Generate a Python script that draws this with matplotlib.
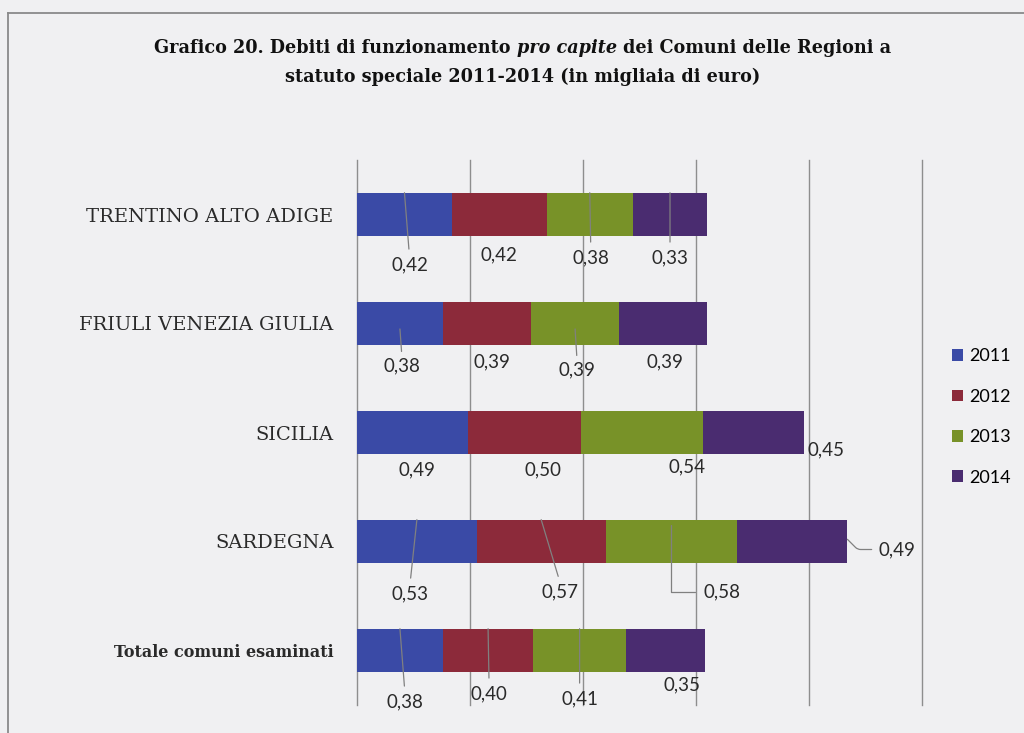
import matplotlib
matplotlib.use("Agg")
import matplotlib.pyplot as plt
from matplotlib.lines import Line2D

# ---------------- data ----------------
regions = ["TRENTINO ALTO ADIGE", "FRIULI VENEZIA GIULIA", "SICILIA",
           "SARDEGNA", "Totale comuni esaminati"]
years = ["2011", "2012", "2013", "2014"]
v2011 = [0.42, 0.38, 0.49, 0.53, 0.38]
v2012 = [0.42, 0.39, 0.50, 0.57, 0.40]
v2013 = [0.38, 0.39, 0.54, 0.58, 0.41]
v2014 = [0.33, 0.39, 0.45, 0.49, 0.35]
series = [v2011, v2012, v2013, v2014]

# ---------------- style ----------------
colors = ["#3a4aa6", "#8c2a3a", "#789228", "#4a2c70"]
bg = "#f0f0f2"
grid_col = "#8e8e8e"
lead_col = "#808080"
num_font = "Lato"
serif = "DejaVu Serif"

# label offsets in pixels from segment centre: (dx, dy downward)
label_off = [
    [(5, 50), (0, 40), (1, 43), (0, 43)],
    [(2, 42), (5, 38), (2, 46), (2, 38)],
    [(5, 37), (19, 37), (45, 34), (72, 17)],
    [(-7, 52), (19, 50), (51, 50), (105, 8)],
    [(5, 51), (1, 43), (0, 48), (17, 34)],
]
leaders = [
    ["v", None, "v", "v"],
    ["c", None, "c", None],
    [None, None, None, None],
    ["v", "v", "elbow", "side"],
    ["v", "v", "v", None],
]

W, H = 1024, 733
fig = plt.figure(figsize=(W / 100, H / 100), dpi=100, facecolor=bg)
ax = fig.add_axes([357 / W, 28 / H, 565 / W, 545 / H])
ax.set_facecolor("none")

ypos = list(range(len(regions)))
cum = [0.0] * len(regions)
for vals, col, yr in zip(series, colors, years):
    ax.barh(ypos, vals, left=cum, height=0.4, color=col, label=yr, zorder=2)
    cum = [c + v for c, v in zip(cum, vals)]

ax.set_xlim(0, 2.5)
ax.set_ylim(4.5, -0.5)
ax.set_xticks([0, 0.5, 1.0, 1.5, 2.0, 2.5])
ax.xaxis.grid(True, color=grid_col, lw=1.0)
for gl in ax.get_xgridlines():
    gl.set_clip_on(False)
ax.set_axisbelow(True)
ax.tick_params(axis="x", length=0, labelbottom=False)
for s in ax.spines.values():
    s.set_visible(False)
ax.set_yticks(ypos)
ax.set_yticklabels(regions)
ax.tick_params(axis="y", length=0, pad=17)
for k, lab in enumerate(ax.get_yticklabels()):
    lab.set_fontfamily(serif)
    lab.set_color("#2a2a2a")
    if k == len(regions) - 1:
        lab.set_fontweight("bold")
        lab.set_fontsize(11.5)
    else:
        lab.set_fontsize(14)

# data labels
for i in range(len(regions)):
    c0 = 0.0
    for j in range(len(series)):
        v = series[j][i]
        mid = c0 + v / 2
        dx, dy = label_off[i][j]
        txt = f"{v:.2f}".replace(".", ",")
        t = ax.annotate(txt, xy=(mid, i), xytext=(dx, -dy),
                        textcoords="offset pixels", ha="center", va="center",
                        fontsize=13.5, family=num_font, color="#2a2a2a",
                        zorder=4)
        kind = leaders[i][j]
        ap = dict(arrowstyle="-", color=lead_col, lw=0.9, shrinkB=0)
        if kind == "v":
            ax.annotate("", xy=(mid, i - 0.2), xytext=(0.5, 1.0), textcoords=t,
                        arrowprops=dict(ap, shrinkA=5), zorder=3)
        elif kind == "c":
            ax.annotate("", xy=(mid, i + 0.05), xytext=(0.5, 1.0), textcoords=t,
                        arrowprops=dict(ap, shrinkA=4), zorder=3)
        elif kind == "elbow":
            ax.annotate("", xy=(mid, i - 0.15), xytext=(0.0, 0.5), textcoords=t,
                        arrowprops=dict(ap, shrinkA=6,
                                        connectionstyle="angle,angleA=0,angleB=90,rad=0"),
                        zorder=3)
        elif kind == "side":
            ax.annotate("", xy=(c0 + v, i - 0.02), xytext=(0.0, 0.5), textcoords=t,
                        arrowprops=dict(ap, shrinkA=5,
                                        connectionstyle="angle,angleA=0,angleB=-45,rad=3"),
                        zorder=3)
        c0 += v

# legend
handles, labels = ax.get_legend_handles_labels()
fig.legend(handles, labels, loc="center left",
           bbox_to_anchor=(936 / W, 1 - 417 / H), frameon=False,
           handlelength=0.6, handleheight=0.6, handletextpad=0.35,
           labelspacing=1.35, prop={"family": num_font, "size": 13})

# title (centred, mixed bold / bold italic)
title_size = 12.7
r = fig.canvas.get_renderer()
def width_px(s, style):
    tt = fig.text(0, 0, s, fontsize=title_size, family=serif, weight="bold",
                  style=style)
    w = tt.get_window_extent(r).width
    tt.remove()
    return w

sp = width_px("x x", "normal") - width_px("xx", "normal")
parts = [("Grafico 20. Debiti di funzionamento", "normal"),
         ("pro capite", "italic"),
         ("dei Comuni delle Regioni a", "normal")]
widths = [width_px(p, s) for p, s in parts]
total = sum(widths) + sp * (len(parts) - 1)
cx = 523
x = cx - total / 2
y1 = 1 - 46 / H
for (p, s), w in zip(parts, widths):
    fig.text(x / W, y1, p, fontsize=title_size, family=serif, weight="bold",
             style=s, ha="left", va="center_baseline", color="#111111")
    x += w + sp
fig.text(cx / W, 1 - 75 / H, "statuto speciale 2011-2014 (in migliaia di euro)",
         fontsize=title_size, family=serif, weight="bold", ha="center",
         va="center_baseline", color="#111111")

# page frame lines
fig.add_artist(Line2D([8 / W, 8 / W], [0, 1 - 13 / H], transform=fig.transFigure,
                      color="#8a8a8a", lw=1.3))
fig.add_artist(Line2D([8 / W, 1], [1 - 13 / H, 1 - 13 / H], transform=fig.transFigure,
                      color="#8a8a8a", lw=1.3))

fig.savefig("out.png", dpi=100, facecolor=bg)
